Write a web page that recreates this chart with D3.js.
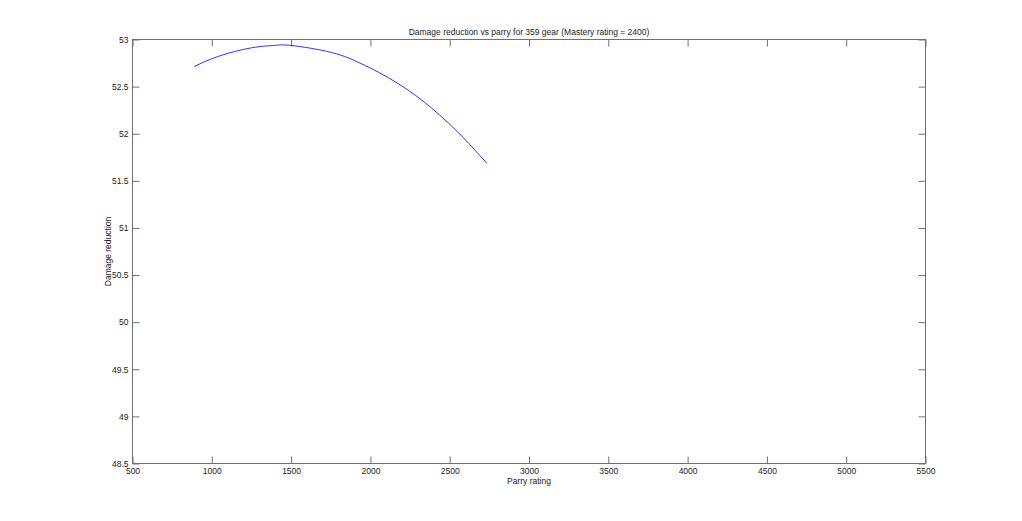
<!DOCTYPE html>
<html><head><meta charset="utf-8">
<script src="https://cdn.jsdelivr.net/npm/d3@7"></script>
<style>
html,body{margin:0;padding:0;background:#fff;}
svg{display:block;}
text{font-family:"Liberation Sans",Arial,sans-serif;fill:#222;}
</style></head>
<body>
<script>
const parryRating = [889, 1041, 1251, 1400, 1504, 1756, 1934, 2060, 2187, 2313, 2450, 2586, 2735];
const damageReduction = [52.713, 52.821, 52.912, 52.938, 52.936, 52.862, 52.750, 52.645, 52.519, 52.371, 52.178, 51.958, 51.684];
const xTicks = [500,1000,1500,2000,2500,3000,3500,4000,4500,5000,5500];
const yTicks = [48.5,49,49.5,50,50.5,51,51.5,52,52.5,53];
const titleText = "Damage reduction vs parry for 359 gear (Mastery rating = 2400)";
const xLabel = "Parry rating";
const yLabel = "Damage reduction";

const W = 1022, H = 521;
const L = 132.5, R = 925.5, T = 39.5, B = 463.5;
const svg = d3.select("body").append("svg").attr("width", W).attr("height", H);
const x = d3.scaleLinear().domain([500,5500]).range([L,R]);
const y = d3.scaleLinear().domain([48.5,53]).range([B,T]);
const axisColor = "#707070";
const fs = "8.5px";

const g = svg.append("g");
g.append("rect").attr("x",L).attr("y",T).attr("width",R-L).attr("height",B-T)
  .attr("fill","none").attr("stroke",axisColor).attr("stroke-width",1);

function styleAxis(sel){
  sel.select(".domain").remove();
  sel.selectAll(".tick line").attr("stroke",axisColor);
  sel.selectAll(".tick text").attr("font-size",fs).attr("fill","#222")
    .attr("font-family","Liberation Sans, Arial, sans-serif");
}
const tk = 7;
g.append("g").attr("transform",`translate(0,${B})`)
  .call(d3.axisBottom(x).tickValues(xTicks).tickSize(-tk).tickPadding(3).tickFormat(d3.format("d")))
  .call(styleAxis).call(s=>s.selectAll(".tick text").attr("dy","0.9em"));
g.append("g").attr("transform",`translate(0,${T})`)
  .call(d3.axisTop(x).tickValues(xTicks).tickSize(-tk).tickFormat(""))
  .call(styleAxis);
g.append("g").attr("transform",`translate(${L},0)`)
  .call(d3.axisLeft(y).tickValues(yTicks).tickSize(-tk).tickPadding(4).tickFormat(d=>String(d)))
  .call(styleAxis);
g.append("g").attr("transform",`translate(${R},0)`)
  .call(d3.axisRight(y).tickValues(yTicks).tickSize(-tk).tickFormat(""))
  .call(styleAxis);

const line = d3.line().curve(d3.curveNatural).x(d=>x(d[0])).y(d=>y(d[1]));
svg.append("path").datum(parryRating.map((p,i)=>[p,damageReduction[i]]))
  .attr("d",line).attr("fill","none").attr("stroke","#0000ff").attr("stroke-width",0.8);

svg.append("text").attr("x",(L+R)/2).attr("y",T-5).attr("text-anchor","middle")
  .attr("font-size",fs).text(titleText);
svg.append("text").attr("x",(L+R)/2).attr("y",B+20).attr("text-anchor","middle")
  .attr("font-size",fs).text(xLabel);
svg.append("text").attr("transform",`translate(${L-22},${(T+B)/2}) rotate(-90)`)
  .attr("text-anchor","middle").attr("font-size",fs).text(yLabel);
</script>
</body></html>
